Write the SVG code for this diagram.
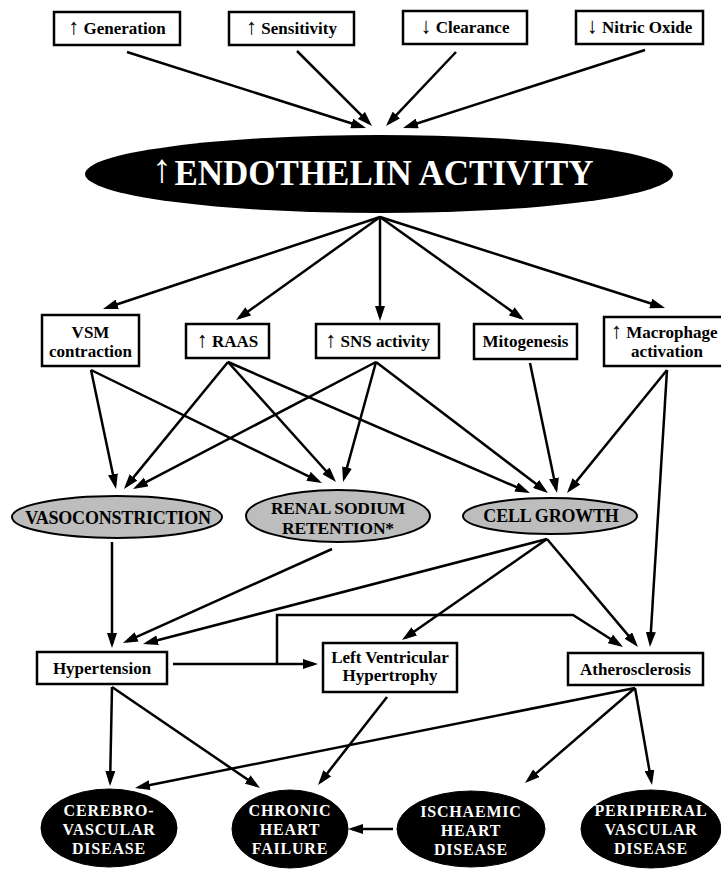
<svg xmlns="http://www.w3.org/2000/svg" width="721" height="869" viewBox="0 0 721 869">
<defs>
<marker id="ah" markerUnits="userSpaceOnUse" markerWidth="15" markerHeight="10" refX="11" refY="5" orient="auto">
<path d="M0,0 L15,5 L0,10 z" fill="#000"/>
</marker>
<style>
.box{fill:#fff;stroke:#000;stroke-width:2.5}
.gell{fill:#bdbdbd;stroke:#000;stroke-width:2}
.bell{fill:#000;stroke:#000;stroke-width:1}
.t{font-family:"Liberation Serif","Times New Roman",serif;font-weight:bold;font-size:17px;fill:#000;text-anchor:middle}
.ar{font-weight:normal;font-size:22px}
.tg{font-family:"Liberation Serif","Times New Roman",serif;font-weight:bold;font-size:17.5px;fill:#000;text-anchor:middle;letter-spacing:-0.2px}
.tw{font-family:"Liberation Serif","Times New Roman",serif;font-weight:bold;font-size:16px;fill:#fff;text-anchor:middle;letter-spacing:0.8px}
.c line,.c polyline{stroke:#000;stroke-width:2.5;fill:none;marker-end:url(#ah)}
</style>
</defs>
<rect width="721" height="869" fill="#fff"/>

<g class="c" id="connectors">
<line x1="127" y1="52" x2="362.2" y2="126.8"/>
<line x1="297" y1="51" x2="369.2" y2="123.2"/>
<line x1="456" y1="52" x2="388.7" y2="123.1"/>
<line x1="645" y1="50" x2="406.8" y2="126.8"/>
<line x1="380" y1="217" x2="106.8" y2="307.7"/>
<line x1="380" y1="217" x2="239.3" y2="317.7"/>
<line x1="380" y1="217" x2="380" y2="317"/>
<line x1="380" y1="217" x2="520.7" y2="317.7"/>
<line x1="380" y1="217" x2="661.2" y2="306.8"/>
<line x1="91" y1="370" x2="115.2" y2="485.1"/>
<line x1="91" y1="370" x2="318.4" y2="481.2"/>
<line x1="228" y1="362" x2="126.5" y2="485.9"/>
<line x1="228" y1="362" x2="333.3" y2="479"/>
<line x1="228" y1="362" x2="526.3" y2="491.4"/>
<line x1="376" y1="362" x2="136.5" y2="487.1"/>
<line x1="376" y1="362" x2="344.1" y2="478.1"/>
<line x1="376" y1="362" x2="544.8" y2="490.6"/>
<line x1="530" y1="363" x2="556.2" y2="489.1"/>
<line x1="667" y1="370" x2="569.5" y2="489.9"/>
<line x1="667" y1="370" x2="650.2" y2="643"/>
<line x1="112" y1="542" x2="112" y2="644"/>
<line x1="332" y1="549" x2="126.6" y2="641.4"/>
<line x1="547" y1="539" x2="146.9" y2="643"/>
<line x1="547" y1="539" x2="405.3" y2="637.7"/>
<line x1="547" y1="539" x2="635.4" y2="643.9"/>
<line x1="173" y1="664" x2="314" y2="664"/>
<polyline points="277,664 277,615 573,615 619.6,644.8"/>
<line x1="112" y1="687" x2="110.1" y2="782"/>
<line x1="112" y1="687" x2="256.7" y2="785.7"/>
<line x1="387" y1="697" x2="320.5" y2="781.9"/>
<line x1="635" y1="688" x2="138.9" y2="787.2"/>
<line x1="635" y1="688" x2="528" y2="780.4"/>
<line x1="635" y1="688" x2="651.3" y2="781.1"/>
<line x1="393" y1="829" x2="352" y2="829"/>
</g>

<g id="generation"><rect class="box" x="54" y="12" width="126" height="33"/><text class="t" x="117" y="34"><tspan class="ar">↑</tspan> Generation</text></g>
<g id="sensitivity"><rect class="box" x="229" y="12" width="125" height="33"/><text class="t" x="291.5" y="34"><tspan class="ar">↑</tspan> Sensitivity</text></g>
<g id="clearance"><rect class="box" x="403" y="11" width="124" height="33"/><text class="t" x="465" y="33"><tspan class="ar">↓</tspan> Clearance</text></g>
<g id="nitric-oxide"><rect class="box" x="576" y="11" width="127" height="33"/><text class="t" x="639.5" y="33"><tspan class="ar">↓</tspan> Nitric Oxide</text></g>

<g id="endothelin">
<ellipse cx="379" cy="174" rx="294" ry="39" fill="#000"/>
<text x="162" y="182" font-family="'Liberation Serif','Times New Roman',serif" font-size="40" fill="#fff" text-anchor="middle">↑</text>
<text x="384" y="185" font-family="'Liberation Serif','Times New Roman',serif" font-weight="bold" font-size="35" fill="#fff" text-anchor="middle">ENDOTHELIN ACTIVITY</text>
</g>

<g id="vsm"><rect class="box" x="42" y="315" width="97" height="51"/><text class="t" x="90.5" y="338">VSM</text><text class="t" x="90.5" y="357">contraction</text></g>
<g id="raas"><rect class="box" x="186" y="324" width="83" height="34"/><text class="t" x="227.5" y="347"><tspan class="ar">↑</tspan> RAAS</text></g>
<g id="sns"><rect class="box" x="316" y="324" width="123" height="34"/><text class="t" x="377.5" y="347"><tspan class="ar">↑</tspan> SNS activity</text></g>
<g id="mitogenesis"><rect class="box" x="474" y="324" width="103" height="35"/><text class="t" x="525.5" y="347">Mitogenesis</text></g>
<g id="macrophage"><rect class="box" x="604" y="317" width="130" height="49"/><text class="t" x="611" y="338" style="text-anchor:start"><tspan class="ar">↑</tspan> Macrophage</text><text class="t" x="667" y="357">activation</text></g>

<g id="vasoconstriction"><ellipse class="gell" cx="117" cy="517" rx="105" ry="21"/><text class="tg" x="118" y="524" style="font-size:18px">VASOCONSTRICTION</text></g>
<g id="renal"><ellipse class="gell" cx="338" cy="516" rx="92" ry="26"/><text class="tg" x="338" y="514">RENAL SODIUM</text><text class="tg" x="338" y="534">RETENTION*</text></g>
<g id="cell-growth"><ellipse class="gell" cx="550" cy="516" rx="87" ry="18"/><text class="tg" x="551" y="522" style="font-size:18px">CELL GROWTH</text></g>

<g id="hypertension"><rect class="box" x="37" y="652" width="130" height="32"/><text class="t" x="102" y="674">Hypertension</text></g>
<g id="lvh"><rect class="box" x="323" y="643" width="134" height="49"/><text class="t" x="390" y="663">Left Ventricular</text><text class="t" x="390" y="681">Hypertrophy</text></g>
<g id="atherosclerosis"><rect class="box" x="568" y="653" width="135" height="32"/><text class="t" x="635.5" y="675">Atherosclerosis</text></g>

<g id="cerebrovascular"><ellipse class="bell" cx="109" cy="828" rx="68" ry="39"/><text class="tw" x="109" y="816">CEREBRO-</text><text class="tw" x="109" y="835">VASCULAR</text><text class="tw" x="109" y="854">DISEASE</text></g>
<g id="chronic-heart-failure"><ellipse class="bell" cx="290" cy="829" rx="58" ry="39"/><text class="tw" x="290" y="816">CHRONIC</text><text class="tw" x="290" y="835">HEART</text><text class="tw" x="290" y="854">FAILURE</text></g>
<g id="ischaemic"><ellipse class="bell" cx="471" cy="829" rx="74" ry="38"/><text class="tw" x="471" y="817">ISCHAEMIC</text><text class="tw" x="471" y="836">HEART</text><text class="tw" x="471" y="855">DISEASE</text></g>
<g id="peripheral"><ellipse class="bell" cx="651" cy="829" rx="70" ry="39"/><text class="tw" x="651" y="816">PERIPHERAL</text><text class="tw" x="651" y="835">VASCULAR</text><text class="tw" x="651" y="854">DISEASE</text></g>
</svg>
